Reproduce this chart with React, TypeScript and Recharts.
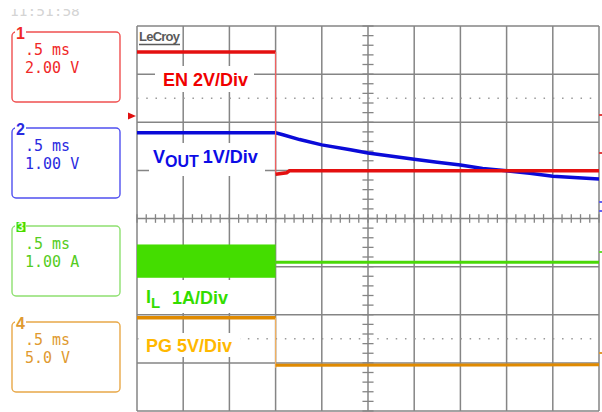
import { Area, CartesianGrid, ComposedChart, Line, ReferenceLine, XAxis, YAxis } from "recharts"

// time base 0.5 ms/div, levels in divisions (0 = centre line)
const timeTicks = [0, 0.5, 1, 1.5, 2, 2.5, 3, 3.5, 4, 4.5, 5]
const levelTicks = [-4, -3, -2, -1, 0, 1, 2, 3, 4]

const enHighT = [0, 1.5]
const enHighV = [3.46, 3.46]
const enEdgeT = [1.5, 1.5]
const enEdgeV = [3.46, 0.92]
const enLowT = [1.5, 1.62, 1.65, 5]
const enLowV = [0.92, 0.95, 0.99, 0.99]

const voutT = [0, 1.5, 1.58, 1.76, 2.0, 2.31, 2.5, 2.74, 3.0, 3.25, 3.5, 3.74, 4.0, 4.25, 4.5, 5]
const voutV = [1.78, 1.78, 1.74, 1.64, 1.53, 1.43, 1.36, 1.3, 1.23, 1.17, 1.11, 1.04, 0.99, 0.94, 0.88, 0.82]

const ilBandT = [0, 1.5]
const ilBandTop = [-0.55, -0.55]
const ilBandBottom = [-1.22, -1.22]
const ilLowT = [1.5, 5]
const ilLowV = [-0.91, -0.91]

const pgHighT = [0, 1.5]
const pgHighV = [-2.06, -2.06]
const pgEdgeT = [1.5, 1.5]
const pgEdgeV = [-2.06, -3.1]
const pgLowT = [1.5, 5]
const pgLowV = [-3.05, -3.04]

const channels = [
  { num: "1", line1: ".5 ms", line2: "2.00 V", border: "#f05050", text: "#f02828" },
  { num: "2", line1: ".5 ms", line2: "1.00 V", border: "#5050f0", text: "#2a2ae0" },
  { num: "3", line1: ".5 ms", line2: "1.00 A", border: "#8ee070", text: "#55cc22" },
  { num: "4", line1: ".5 ms", line2: "5.0 V", border: "#e8a848", text: "#e09a30" },
]
const boxTops = [32, 128, 226, 322]

const pts = (t: number[], v: number[]) => t.map((x, i) => ({ t: x, v: v[i] }))
const band = ilBandT.map((x, i) => ({ t: x, v: [ilBandBottom[i], ilBandTop[i]] }))

// minor ticks on the centre cross, 1/5 div apart
const fineT: number[] = []
for (let i = 0; i <= 50; i++) fineT.push(i * 0.1)
const fineV: number[] = []
for (let i = -20; i <= 20; i++) fineV.push(i * 0.2)

const grid = "#858585"
const mono = "'DejaVu Sans Mono', 'Liberation Mono', monospace"
const sans = "'Liberation Sans', Arial, sans-serif"

function Overlay() {
  return (
    <svg width={602} height={412} style={{ position: "absolute", left: 0, top: 0, pointerEvents: "none" }}>
      {/* channel boxes */}
      {channels.map((c, i) => {
        const top = boxTops[i]
        return (
          <g key={c.num}>
            <rect x={12} y={top} width={108} height={70} rx={4} fill="none" stroke={c.border} strokeWidth={1.4} />
            <rect x={15} y={top - 4} width={11} height={9} fill="#fff" />
            {c.num === "3" ? (
              <>
                <rect x={16.5} y={top - 4} width={9} height={10} fill="#44dd00" />
                <text x={17.3} y={top + 5} fontFamily={sans} fontWeight="bold" fontSize={12} fill="#e6ffd8">3</text>
              </>
            ) : (
              <text x={16} y={top + 7} fontFamily={sans} fontWeight="bold" fontSize={16} fill={c.text}>{c.num}</text>
            )}
            <text x={25} y={top + 23} fontFamily={mono} fontSize={15} fill={c.text}>{c.line1}</text>
            <text x={25} y={top + 41} fontFamily={mono} fontSize={15} fill={c.text}>{c.line2}</text>
          </g>
        )
      })}

      {/* LeCroy logo */}
      <text x={139} y={41} fontFamily={sans} fontWeight="bold" fontSize={13} fill="#5a5a5a" textLength={41}>LeCroy</text>
      <line x1={139} x2={180} y1={44.5} y2={44.5} stroke="#5a5a5a" strokeWidth={1.5} />

      {/* trace labels */}
      <rect x={155} y={66} width={99} height={26} fill="#fff" />
      <text x={163} y={86} fontFamily={sans} fontWeight="bold" fontSize={18} fill="#f00000">EN 2V/Div</text>

      <rect x={149} y={143} width={116} height={33} fill="#fff" />
      <text x={153} y={163} fontFamily={sans} fontWeight="bold" fill="#0c0ce6">
        <tspan fontSize={18}>V</tspan>
        <tspan fontSize={16} dy={4}>OUT</tspan>
        <tspan fontSize={18} dy={-4} dx={4}>1V/Div</tspan>
      </text>

      <rect x={140} y={280} width={96} height={33} fill="#fff" />
      <text x={146} y={303} fontFamily={sans} fontWeight="bold" fontSize={18} fill="#33dd00">I</text>
      <text x={151} y={308} fontFamily={sans} fontWeight="bold" fontSize={15} fill="#33dd00">L</text>
      <text x={172} y={304} fontFamily={sans} fontWeight="bold" fontSize={18} fill="#33dd00">1A/Div</text>

      <rect x={140} y={333} width={100} height={24} fill="#fff" />
      <text x={146} y={352} fontFamily={sans} fontWeight="bold" fontSize={18} fill="#ffb800">PG 5V/Div</text>

      {/* trigger marker and offset markers */}
      <polygon points="128,112.5 136,116 128,119.5" fill="#e01010" />
      <rect x={599} y={114} width={3} height={2} fill="#e04040" />
      <rect x={599} y={152} width={3} height={2} fill="#e04040" />
      <rect x={599} y={201} width={3} height={2} fill="#6060f0" />
      <rect x={599} y={210} width={3} height={2} fill="#6060f0" />
      <rect x={599} y={251} width={3} height={2} fill="#66dd33" />
      <rect x={599} y={352} width={3} height={2} fill="#e09a30" />
    </svg>
  )
}

export default function App() {
  return (
    <div style={{ position: "absolute", left: 0, top: 0, width: 602, height: 412, background: "#fff" }}>
      <svg width={90} height={8} style={{ position: "absolute", left: 10, top: 9 }}>
        <text x={0} y={7} fontFamily={mono} fontSize={14.5} fill="#d4d4d4">11:51:58</text>
      </svg>
      <ComposedChart width={602} height={412} margin={{ top: 26, right: 3, bottom: 1, left: 137 }}>
        <XAxis type="number" dataKey="t" domain={[0, 5]} ticks={timeTicks} hide allowDataOverflow />
        <YAxis type="number" dataKey="v" domain={[-4, 4]} ticks={levelTicks} hide allowDataOverflow />
        <CartesianGrid stroke={grid} strokeWidth={1.5} />
        <ReferenceLine y={2.5} stroke="#999" strokeWidth={1.5} strokeDasharray="1.5 7.74" />
        <ReferenceLine y={-2.5} stroke="#999" strokeWidth={1.5} strokeDasharray="1.5 7.74" />
        {fineT.map((t) => (
          <ReferenceLine key={"ft" + t} segment={[{ x: t, y: -0.09 }, { x: t, y: 0.09 }]} stroke={grid} strokeWidth={1.3} />
        ))}
        {fineV.map((v) => (
          <ReferenceLine key={"fv" + v} segment={[{ x: 2.44, y: v }, { x: 2.56, y: v }]} stroke={grid} strokeWidth={1.3} />
        ))}

        <Area data={band} dataKey="v" type="linear" stroke="#44dd00" strokeWidth={1} fill="#44dd00" fillOpacity={1} dot={false} isAnimationActive={false} />
        <Line data={pts(ilLowT, ilLowV)} dataKey="v" type="linear" stroke="#4ad808" strokeWidth={3} dot={false} isAnimationActive={false} />

        <Line data={pts(pgHighT, pgHighV)} dataKey="v" type="linear" stroke="#e08a00" strokeWidth={3.5} dot={false} isAnimationActive={false} />
        <Line data={pts(pgEdgeT, pgEdgeV)} dataKey="v" type="linear" stroke="#f0b060" strokeWidth={1.2} dot={false} isAnimationActive={false} />
        <Line data={pts(pgLowT, pgLowV)} dataKey="v" type="linear" stroke="#e08a00" strokeWidth={3} dot={false} isAnimationActive={false} />

        <Line data={pts(voutT, voutV)} dataKey="v" type="linear" stroke="#0a0ad8" strokeWidth={3.5} dot={false} isAnimationActive={false} />

        <Line data={pts(enHighT, enHighV)} dataKey="v" type="linear" stroke="#e41010" strokeWidth={3.5} dot={false} isAnimationActive={false} />
        <Line data={pts(enEdgeT, enEdgeV)} dataKey="v" type="linear" stroke="#f06060" strokeWidth={1.2} dot={false} isAnimationActive={false} />
        <Line data={pts(enLowT, enLowV)} dataKey="v" type="linear" stroke="#e41010" strokeWidth={3.5} dot={false} isAnimationActive={false} />
      </ComposedChart>
      <Overlay />
    </div>
  )
}
